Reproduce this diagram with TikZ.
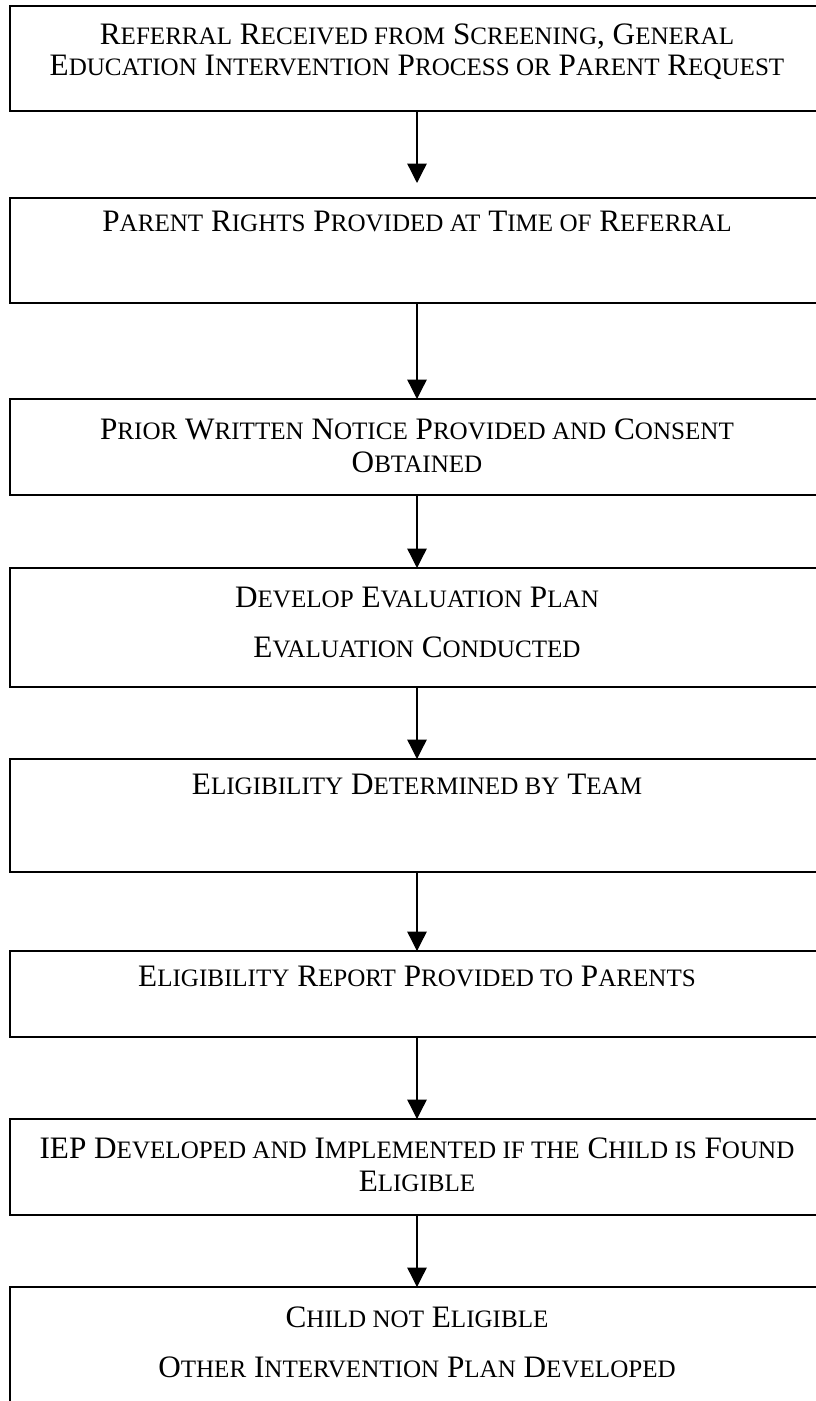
\documentclass[tikz,border=0pt]{standalone}
\usepackage{fontspec}
\setmainfont{Liberation Serif}
\usetikzlibrary{arrows.meta}
\newcommand\smc[1]{{\fontsize{18.8pt}{21pt}\selectfont #1}}
\begin{document}
\begin{tikzpicture}[x=0.75pt,y=-0.75pt,
  box/.style={draw=black, line width=1.3pt, rectangle, anchor=north west,
    minimum width=610.5pt, inner sep=0pt, outer sep=0pt},
  lbl/.style={anchor=base, inner sep=0pt, font=\fontsize{23.4pt}{26pt}\selectfont},
  arr/.style={draw=black, line width=1pt, -{Triangle[length=14.5pt,width=14.5pt]}}]
\useasboundingbox (0,0) rectangle (816,1401);
\clip (0,0) rectangle (816,1401);
\fill[white] (0,0) rectangle (816,1401);
% boxes
\node[box, minimum height=78.75pt] (b1) at (10,6) {};
\node[box, minimum height=78.75pt] (b2) at (10,198) {};
\node[box, minimum height=72pt]    (b3) at (10,399) {};
\node[box, minimum height=89.25pt] (b4) at (10,568) {};
\node[box, minimum height=84.75pt] (b5) at (10,759) {};
\node[box, minimum height=64.5pt]  (b6) at (10,951) {};
\node[box, minimum height=72pt]    (b7) at (10,1119) {};
\node[box, minimum height=150pt]   (b8) at (10,1287) {};
% texts
\node[lbl] (t1a) at (417,45) {R\smc{EFERRAL} R\smc{ECEIVED FROM} S\smc{CREENING}, G\smc{ENERAL}};
\node[lbl] (t1b) at (417,76) {E\smc{DUCATION} I\smc{NTERVENTION} P\smc{ROCESS OR} P\smc{ARENT} R\smc{EQUEST}};
\node[lbl] (t2) at (417,232) {P\smc{ARENT} R\smc{IGHTS} P\smc{ROVIDED AT} T\smc{IME OF} R\smc{EFERRAL}};
\node[lbl] (t3a) at (417,439) {P\smc{RIOR} W\smc{RITTEN} N\smc{OTICE} P\smc{ROVIDED AND} C\smc{ONSENT}};
\node[lbl] (t3b) at (417,472) {O\smc{BTAINED}};
\node[lbl] (t4a) at (417,607) {D\smc{EVELOP} E\smc{VALUATION} P\smc{LAN}};
\node[lbl] (t4b) at (417,657) {E\smc{VALUATION} C\smc{ONDUCTED}};
\node[lbl] (t5) at (417,794) {E\smc{LIGIBILITY} D\smc{ETERMINED BY} T\smc{EAM}};
\node[lbl] (t6) at (417,986) {E\smc{LIGIBILITY} R\smc{EPORT} P\smc{ROVIDED TO} P\smc{ARENTS}};
\node[lbl] (t7a) at (417,1158) {IEP D\smc{EVELOPED AND} I\smc{MPLEMENTED IF THE} C\smc{HILD IS} F\smc{OUND}};
\node[lbl] (t7b) at (417,1191) {E\smc{LIGIBLE}};
\node[lbl] (t8a) at (417,1327) {C\smc{HILD NOT} E\smc{LIGIBLE}};
\node[lbl] (t8b) at (417,1377) {O\smc{THER} I\smc{NTERVENTION} P\smc{LAN} D\smc{EVELOPED}};
% arrows
\draw[arr, shorten >=11.25pt] (b1.south) -- (b2.north);
\draw[arr] (b2.south) -- (b3.north);
\draw[arr] (b3.south) -- (b4.north);
\draw[arr] (b4.south) -- (b5.north);
\draw[arr] (b5.south) -- (b6.north);
\draw[arr] (b6.south) -- (b7.north);
\draw[arr] (b7.south) -- (b8.north);
\end{tikzpicture}
\end{document}
